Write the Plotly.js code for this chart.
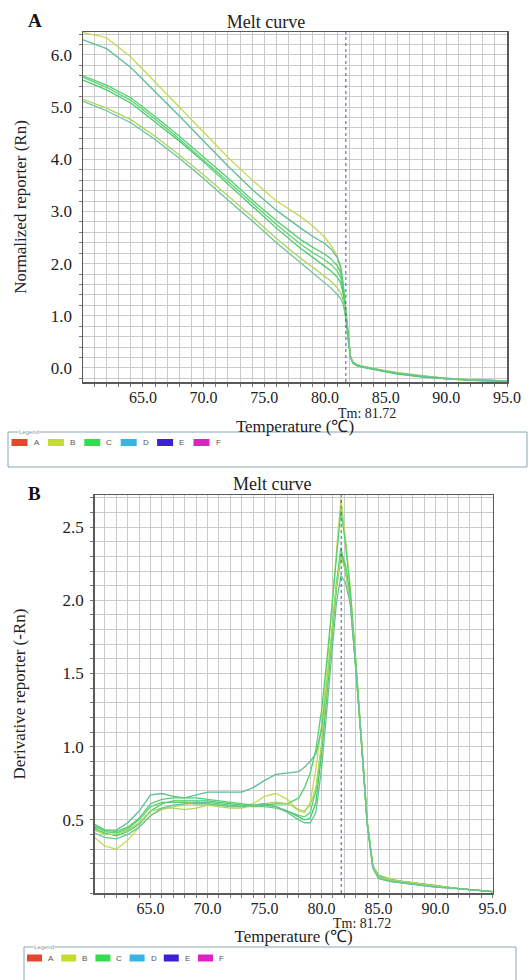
<!DOCTYPE html>
<html><head><meta charset="utf-8">
<script src="https://cdn.plot.ly/plotly-3.0.1.min.js"></script>
<style>html,body{margin:0;padding:0;background:#fff}#chart{width:529px;height:980px}</style>
</head><body><div id="chart"></div>
<script>
// ---- Panel A: normalized reporter (Rn) vs temperature ----
const tempA = [60.06, 62, 64, 66, 68, 70, 72, 74, 76, 78, 79, 80, 80.5, 81, 81.3, 81.5, 81.7, 81.9, 82.1, 82.3, 82.6, 83, 84, 85, 86, 88, 90, 92, 95];
const rnW1 = [6.43, 6.33, 5.96, 5.48, 5.00, 4.52, 4.04, 3.60, 3.20, 2.90, 2.72, 2.50, 2.35, 2.15, 1.85, 1.55, 1.12, 0.62, 0.24, 0.12, 0.07, 0.04, -0.02, -0.06, -0.10, -0.16, -0.20, -0.23, -0.25];
const rnW2 = [6.29, 6.12, 5.76, 5.30, 4.83, 4.35, 3.87, 3.42, 3.02, 2.68, 2.52, 2.38, 2.28, 2.12, 1.95, 1.62, 1.12, 0.60, 0.22, 0.10, 0.05, 0.02, -0.03, -0.07, -0.11, -0.17, -0.21, -0.23, -0.25];
const rnW3 = [5.60, 5.42, 5.18, 4.82, 4.44, 4.04, 3.64, 3.22, 2.82, 2.46, 2.31, 2.18, 2.09, 1.96, 1.82, 1.55, 1.10, 0.60, 0.22, 0.11, 0.06, 0.03, -0.02, -0.06, -0.10, -0.16, -0.20, -0.23, -0.25];
const rnW4 = [5.57, 5.38, 5.13, 4.77, 4.39, 3.99, 3.58, 3.16, 2.75, 2.37, 2.21, 2.07, 1.98, 1.86, 1.73, 1.48, 1.07, 0.58, 0.21, 0.10, 0.05, 0.02, -0.03, -0.07, -0.11, -0.17, -0.21, -0.24, -0.26];
const rnW5 = [5.52, 5.33, 5.08, 4.72, 4.35, 3.95, 3.53, 3.10, 2.68, 2.29, 2.12, 1.96, 1.86, 1.74, 1.63, 1.42, 1.05, 0.57, 0.20, 0.09, 0.05, 0.02, -0.03, -0.08, -0.12, -0.17, -0.21, -0.24, -0.26];
const rnW6 = [5.15, 4.98, 4.76, 4.44, 4.08, 3.70, 3.30, 2.90, 2.48, 2.10, 1.93, 1.76, 1.66, 1.54, 1.44, 1.30, 1.02, 0.58, 0.22, 0.12, 0.07, 0.04, -0.01, -0.05, -0.09, -0.15, -0.20, -0.23, -0.25];
const rnW7 = [5.11, 4.93, 4.70, 4.38, 4.02, 3.63, 3.22, 2.82, 2.40, 2.01, 1.83, 1.63, 1.53, 1.41, 1.33, 1.22, 0.98, 0.55, 0.20, 0.10, 0.06, 0.03, -0.02, -0.06, -0.10, -0.16, -0.20, -0.23, -0.25];

// ---- Panel B: derivative reporter (-Rn) vs temperature ----
const tempB = [60.1, 61, 62, 63, 64, 65, 66, 67, 68, 69, 70, 71, 72, 73, 74, 75, 76, 77, 78, 78.5, 79, 79.5, 80, 80.5, 81, 81.3, 81.7, 82.1, 82.5, 83, 83.5, 84, 84.5, 85, 86, 87, 88, 89, 90, 92, 95];
const drW1 = [0.38, 0.32, 0.30, 0.36, 0.45, 0.53, 0.57, 0.59, 0.60, 0.60, 0.60, 0.60, 0.59, 0.59, 0.61, 0.66, 0.68, 0.64, 0.56, 0.55, 0.62, 0.85, 1.15, 1.55, 2.05, 2.35, 2.70, 2.42, 2.10, 1.60, 1.06, 0.50, 0.19, 0.12, 0.10, 0.08, 0.07, 0.06, 0.05, 0.03, 0.01];
const drW2 = [0.45, 0.43, 0.43, 0.48, 0.56, 0.67, 0.68, 0.66, 0.65, 0.67, 0.69, 0.69, 0.69, 0.69, 0.72, 0.77, 0.81, 0.82, 0.83, 0.86, 0.90, 0.95, 1.12, 1.45, 1.85, 2.10, 2.36, 2.20, 2.02, 1.56, 1.04, 0.48, 0.18, 0.12, 0.09, 0.08, 0.07, 0.06, 0.05, 0.03, 0.01];
const drW3 = [0.47, 0.43, 0.42, 0.45, 0.51, 0.61, 0.64, 0.65, 0.65, 0.65, 0.64, 0.63, 0.62, 0.61, 0.60, 0.60, 0.61, 0.61, 0.65, 0.72, 0.82, 0.98, 1.25, 1.62, 2.05, 2.32, 2.62, 2.38, 2.08, 1.58, 1.05, 0.49, 0.18, 0.11, 0.09, 0.08, 0.07, 0.06, 0.05, 0.03, 0.01];
const drW4 = [0.46, 0.42, 0.41, 0.44, 0.50, 0.59, 0.62, 0.62, 0.62, 0.61, 0.61, 0.60, 0.59, 0.59, 0.59, 0.59, 0.58, 0.56, 0.53, 0.52, 0.55, 0.70, 1.00, 1.42, 1.88, 2.12, 2.34, 2.24, 2.04, 1.57, 1.04, 0.48, 0.18, 0.11, 0.09, 0.08, 0.07, 0.06, 0.05, 0.03, 0.01];
const drW5 = [0.44, 0.41, 0.39, 0.42, 0.47, 0.56, 0.61, 0.63, 0.63, 0.63, 0.63, 0.62, 0.61, 0.60, 0.60, 0.60, 0.59, 0.56, 0.52, 0.50, 0.51, 0.62, 0.95, 1.40, 1.85, 2.08, 2.31, 2.22, 2.02, 1.55, 1.03, 0.47, 0.17, 0.10, 0.08, 0.07, 0.06, 0.05, 0.04, 0.03, 0.01];
const drW6 = [0.43, 0.40, 0.40, 0.43, 0.48, 0.56, 0.58, 0.58, 0.57, 0.58, 0.60, 0.59, 0.58, 0.58, 0.60, 0.61, 0.62, 0.61, 0.57, 0.56, 0.60, 0.72, 1.02, 1.45, 1.88, 2.10, 2.30, 2.20, 2.00, 1.56, 1.04, 0.48, 0.18, 0.11, 0.09, 0.08, 0.07, 0.06, 0.05, 0.03, 0.01];
const drW7 = [0.41, 0.38, 0.37, 0.40, 0.45, 0.53, 0.58, 0.60, 0.61, 0.62, 0.62, 0.61, 0.60, 0.59, 0.60, 0.61, 0.59, 0.55, 0.50, 0.48, 0.48, 0.55, 0.85, 1.30, 1.75, 1.98, 2.17, 2.12, 1.98, 1.54, 1.02, 0.47, 0.17, 0.10, 0.08, 0.07, 0.06, 0.05, 0.04, 0.03, 0.01];

const wellNames = ['Well 1', 'Well 2', 'Well 3', 'Well 4', 'Well 5', 'Well 6', 'Well 7'];
const wellColors = ['#c4da52', '#5cbf92', '#4fd36b', '#63cf7a', '#40ce62', '#a9d65c', '#69c29c'];
const tmValue = 81.72;
const xTickVals = [65, 70, 75, 80, 85, 90, 95];
const yTickValsB = [0.5, 1.0, 1.5, 2.0, 2.5];
const legendLabels = ['A', 'B', 'C', 'D', 'E', 'F'];
const legendColors = ['#e2482c', '#c4dc2c', '#36dc50', '#38b4e2', '#3a22d4', '#dc22c0'];

// ---- helpers: pixel -> paper ----
const W = 529, H = 980;
const px = v => v / W;
const py = v => 1 - v / H;

const rnSeries = [rnW1, rnW2, rnW3, rnW4, rnW5, rnW6, rnW7];
const drSeries = [drW1, drW2, drW3, drW4, drW5, drW6, drW7];
const traces = [];
rnSeries.forEach((s, i) => traces.push({
  x: tempA, y: s, type: 'scatter', mode: 'lines', name: wellNames[i],
  xaxis: 'x', yaxis: 'y', line: {color: wellColors[i], width: 1.3}, showlegend: false
}));
drSeries.forEach((s, i) => traces.push({
  x: tempB, y: s, type: 'scatter', mode: 'lines', name: wellNames[i],
  xaxis: 'x2', yaxis: 'y2', line: {color: wellColors[i], width: 1.3}, showlegend: false
}));

const serif = 'Liberation Serif';
const sans = 'Liberation Sans';
const grid = '#cbcbcb';
const minorX = {dtick: 1, tick0: 60, showgrid: true, gridcolor: grid, gridwidth: 1, ticks: 'outside', ticklen: 3, tickcolor: '#777'};
const axisCommon = {
  showline: true, linecolor: '#5a5a5a', linewidth: 1.5, mirror: true,
  showgrid: true, gridcolor: grid, gridwidth: 1, zeroline: false,
  ticks: '', tickfont: {family: serif, size: 17, color: '#222'}, tickformat: '.1f'
};
const xTickFont = {family: serif, size: 16, color: '#222'};
const titleFont = {family: serif, size: 17, color: '#222'};

const shapes = [];
const annotations = [];

// Tm lines
['x', 'x2'].forEach((xr, k) => {
  shapes.push({type: 'line', xref: xr, yref: (k === 0 ? 'y' : 'y2') + ' domain',
    x0: tmValue, x1: tmValue, y0: 0, y1: 1, line: {color: '#3a5a9a', width: 1, dash: 'dot'}});
});
// Tm labels
annotations.push({xref: 'x', yref: 'paper', x: tmValue, y: py(413), text: 'Tm: ' + tmValue,
  showarrow: false, xanchor: 'left', yanchor: 'middle', xshift: -10, font: {family: serif, size: 14, color: '#222'}});
annotations.push({xref: 'x2', yref: 'paper', x: tmValue, y: py(923), text: 'Tm: ' + tmValue,
  showarrow: false, xanchor: 'left', yanchor: 'middle', xshift: -10, font: {family: serif, size: 14, color: '#222'}});

// Panel letters & bottom title
annotations.push({xref: 'paper', yref: 'paper', x: px(35), y: py(20), text: '<b>A</b>', showarrow: false,
  xanchor: 'center', yanchor: 'middle', font: {family: serif, size: 19, color: '#111'}});
annotations.push({xref: 'paper', yref: 'paper', x: px(34), y: py(493), text: '<b>B</b>', showarrow: false,
  xanchor: 'center', yanchor: 'middle', font: {family: serif, size: 19, color: '#111'}});
annotations.push({xref: 'paper', yref: 'paper', x: px(272), y: py(484), text: 'Melt curve', showarrow: false,
  xanchor: 'center', yanchor: 'middle', font: {family: serif, size: 18, color: '#222'}});

// Legend boxes
function legendBox(x0, x1, y0, y1, itemY, startX, step, swW, labelX) {
  shapes.push({type: 'rect', xref: 'paper', yref: 'paper', x0: px(x0), x1: px(x1), y0: py(y1), y1: py(y0),
    line: {color: '#8aa4b4', width: 1}, fillcolor: 'rgba(0,0,0,0)'});
  annotations.push({xref: 'paper', yref: 'paper', x: px(labelX), y: py(y0), text: 'Legend', showarrow: false,
    xanchor: 'left', yanchor: 'middle', bgcolor: '#ffffff', borderpad: 0,
    font: {family: sans, size: 6, color: '#8a9aa8'}});
  legendLabels.forEach((lab, i) => {
    const sx = startX + i * step;
    shapes.push({type: 'rect', xref: 'paper', yref: 'paper', x0: px(sx), x1: px(sx + swW),
      y0: py(itemY + 3.5), y1: py(itemY - 3.5), line: {width: 0}, fillcolor: legendColors[i]});
    annotations.push({xref: 'paper', yref: 'paper', x: px(sx + swW + 4), y: py(itemY), text: lab, showarrow: false,
      xanchor: 'left', yanchor: 'middle', font: {family: sans, size: 8, color: '#555'}});
  });
}
legendBox(8, 527, 432, 467, 442.5, 11.5, 36.4, 16, 18);
legendBox(24, 516, 947, 990, 958, 27, 34.2, 15, 33);

const layout = {
  width: W, height: H, margin: {l: 0, r: 0, t: 0, b: 0},
  font: {family: serif, size: 17, color: '#222'},
  paper_bgcolor: '#fff', plot_bgcolor: '#fff', showlegend: false,
  title: {text: 'Melt curve', x: px(266), xanchor: 'center', y: py(22), yanchor: 'middle', yref: 'container',
    font: {family: serif, size: 18, color: '#222'}},
  xaxis: Object.assign({}, axisCommon, {
    domain: [px(83), px(507)], range: [60.06, 95], anchor: 'y',
    tickvals: xTickVals, tickfont: xTickFont, minor: minorX,
    title: {text: 'Temperature (℃)', font: titleFont, standoff: 15}
  }),
  yaxis: Object.assign({}, axisCommon, {
    domain: [py(382), py(32)], range: [-0.27, 6.44], anchor: 'x',
    dtick: 1, tick0: 0, ticklabelstandoff: 6,
    minor: {dtick: 0.2, tick0: 0, showgrid: true, gridcolor: grid, gridwidth: 1, ticks: 'outside', ticklen: 3, tickcolor: '#777'},
    title: {text: 'Normalized reporter (Rn)', font: titleFont, standoff: 20}
  }),
  xaxis2: Object.assign({}, axisCommon, {
    domain: [px(94.7), px(492.6)], range: [60.1, 95], anchor: 'y2',
    tickvals: xTickVals, tickfont: xTickFont, minor: minorX,
    title: {text: 'Temperature (℃)', font: titleFont, standoff: 14}
  }),
  yaxis2: Object.assign({}, axisCommon, {
    domain: [py(893), py(495)], range: [0, 2.72], anchor: 'x2',
    tickvals: yTickValsB, ticklabelstandoff: 6,
    minor: {dtick: 0.1, tick0: 0, showgrid: true, gridcolor: grid, gridwidth: 1, ticks: 'outside', ticklen: 3, tickcolor: '#777'},
    title: {text: 'Derivative reporter (-Rn)', font: titleFont, standoff: 32}
  }),
  shapes: shapes,
  annotations: annotations
};

Plotly.newPlot('chart', traces, layout, {displayModeBar: false, staticPlot: true});
</script>
</body></html>
